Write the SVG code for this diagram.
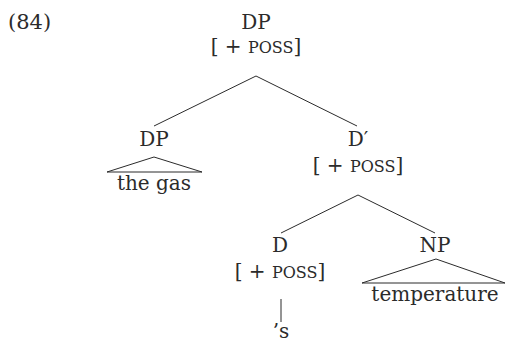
<svg xmlns="http://www.w3.org/2000/svg" width="506" height="342" viewBox="0 0 506 342">
<style>
text{font-family:"DejaVu Serif","Liberation Serif",serif;font-size:20px;fill:#2b2b2b}
.m{text-anchor:middle}
.sc{font-size:16px}
line,polygon{stroke:#2b2b2b;stroke-width:1;fill:none}
</style>
<rect width="506" height="342" fill="#fff"/>
<text x="8" y="29" style="font-size:21px">(84)</text>
<g id="connectors">
<line x1="256" y1="76" x2="154" y2="126"/>
<line x1="256" y1="76" x2="357" y2="126"/>
<line x1="358" y1="195" x2="281" y2="233"/>
<line x1="358" y1="195" x2="435" y2="233"/>
<line x1="281" y1="299" x2="281" y2="322"/>
</g>
<g id="dp-root">
<text class="m" x="256" y="29">DP</text>
<text class="m" x="256" y="53">[ + <tspan class="sc">POSS</tspan>]</text>
</g>
<g id="dp-left">
<text class="m" x="154" y="146">DP</text>
<polygon points="154,157 107,172 202,172"/>
<text class="m" x="154" y="190">the gas</text>
</g>
<g id="dbar">
<text class="m" x="358" y="146">D′</text>
<text class="m" x="358" y="172">[ + <tspan class="sc">POSS</tspan>]</text>
</g>
<g id="d">
<text class="m" x="280" y="252">D</text>
<text class="m" x="280" y="278">[ + <tspan class="sc">POSS</tspan>]</text>
</g>
<g id="s">
<text class="m" x="281" y="338">’s</text>
</g>
<g id="np">
<text class="m" x="435" y="252">NP</text>
<polygon points="436,259 362,283 505,283"/>
<text class="m" x="435" y="301">temperature</text>
</g>
</svg>
